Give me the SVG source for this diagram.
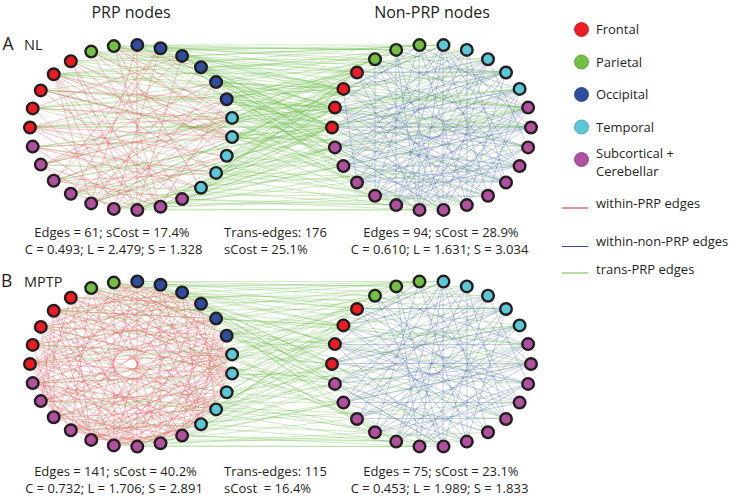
<svg xmlns="http://www.w3.org/2000/svg" width="730" height="496" viewBox="0 0 730 496">
<style>
text{font-family:"Open Sans","Noto Sans","Liberation Sans",sans-serif;fill:#231f20}
.t{font-size:16px;text-anchor:middle}
.p{font-size:17.5px}
.c{font-size:14.5px}
.s{font-size:13px}
.m{text-anchor:middle}
.n circle{stroke:#231f20;stroke-width:2.4}
.fr{fill:#ed1c24}.pa{fill:#72bf44}.oc{fill:#2e4d9f}.te{fill:#5bc8d8}.sc{fill:#b0509f}
.lg circle{stroke-width:0.8}
.er{fill:none;stroke:#e8414b;stroke-width:0.6;stroke-opacity:0.55}
.eb{fill:none;stroke:#4f6db3;stroke-width:0.6;stroke-opacity:0.55}
.eg{fill:none;stroke:#6cbf4a;stroke-width:0.6;stroke-opacity:0.55}
</style>
<rect width="730" height="496" fill="#fff"/>
<g id="connectors">
<g id="edges-A">
<path id="gA1" class="eg" d="M30 127L357 72M30 127L520 89M30 127L443 210M33 108L332 127M33 108L467 50M33 108L520 166M33 108L375 196M41 90L396 50M41 90L531 127M41 90L343 166M54 74L335 108M54 74L506 72M54 74L488 196M54 74L343 89M54 74L419 45M71 61L375 59M71 61L528 108M71 61L419 210M91 52L443 45M91 52L332 127M91 52L528 147M91 52L357 182M91 52L357 72M114 46L343 89M114 46L488 59M114 46L335 147M114 46L506 182M114 46L528 108M137 45L396 50M137 45L419 45M137 45L467 205M137 45L335 108M160 48L375 59M160 48L520 89M160 48L396 205M160 48L332 127M160 48L467 50M182 56L357 72M182 56L443 45M182 56L531 127M182 56L343 166M182 56L506 72M201 67L335 108M201 67L488 59M201 67L443 210M201 67L335 147M201 67L332 127M216 82L332 127M216 82L343 89M216 82L528 108M216 82L375 196M216 82L396 50M227 99L357 72M227 99L335 108M227 99L506 182M227 99L335 147M227 99L506 72M227 99L419 45M232 118L332 127M232 118L343 89M232 118L375 59M232 118L520 89M232 118L396 205M232 118L443 45M232 137L335 108M232 137L335 147M232 137L357 72M232 137L528 147M232 137L467 50M232 137L443 210M227 156L332 127M227 156L343 166M227 156L528 108M227 156L396 50M227 156L343 89M216 173L343 89M216 173L357 182M216 173L335 147M216 173L467 205M216 173L332 127M201 188L335 108M201 188L375 196M201 188L343 166M201 188L506 72M201 188L357 72M182 199L332 127M182 199L396 205M182 199L419 210M182 199L531 127M160 207L335 147M160 207L375 196M160 207L419 45M160 207L488 196M137 210L343 166M137 210L443 210M137 210L335 108M137 210L488 59M114 209L357 182M114 209L419 210M114 209L528 108M91 203L332 127M91 203L467 205M91 203L443 45M71 194L335 147M71 194L520 166M71 194L375 59M54 181L343 89M54 181L396 205M54 181L520 89M41 165L343 166M41 165L506 182M41 165L357 72M33 147L335 108M33 147L531 127M33 147L419 210"/>
<path id="gA2" class="eg" d="M30 127L332 127M30 127L531 127M33 108L343 89M33 108L506 72M41 90L335 108M41 90L488 196M54 74L375 59M54 74L528 108M54 74L396 205M71 61L332 127M71 61L443 45M91 52L343 89M91 52L467 205M114 46L335 108M114 46L396 50M137 45L332 127M137 45L506 72M137 45L343 166M160 48L343 89M160 48L528 147M182 56L332 127M182 56L419 210M201 67L357 72M201 67L528 108M216 82L335 108M216 82L520 166M216 82L335 147M227 99L332 127M227 99L467 50M227 99L419 210M227 99L531 127M232 118L335 108M232 118L357 72M232 118L506 182M232 118L531 127M232 137L332 127M232 137L343 89M232 137L506 72M232 137L528 108M227 156L335 108M227 156L488 59M216 173L357 72M216 173L528 108M201 188L332 127M201 188L335 147M182 199L343 89M182 199L520 89M160 207L335 108M160 207L528 147M137 210L332 127M137 210L528 108M114 209L357 72M114 209L335 147M91 203L343 89M91 203L506 72M71 194L335 108M71 194L375 196M54 181L332 127M54 181L396 50M41 165L488 59M33 147L520 89"/>
<path id="rA" class="er" d="M54 74L160 207M54 74L137 210M54 74L114 209M54 74L182 199M54 74L232 118M54 74L216 173M54 74L91 203M54 74L232 137M30 127L232 118M30 127L232 137M30 127L201 188M30 127L216 82M30 127L160 207M33 108L232 118M33 108L137 210M41 90L232 137M41 90L182 199M232 118L54 181M232 118L91 203M232 118L114 46M232 118L91 52M232 118L137 210M232 118L41 165M232 137L71 194M232 137L33 147M232 137L114 46M114 46L201 188M114 46L160 207M114 46L201 67M91 52L182 199M91 52L227 156M137 45L137 210M137 45L91 203M160 48L114 209M160 48L71 194M182 56L54 181M182 56L137 210M201 67L91 203M216 82L114 209M227 99L41 165M227 99L160 207M227 156L71 194M227 156L30 127M216 173L54 181M216 173L71 61M201 188L33 147M182 199L54 181M160 207L41 165M137 210L33 147M137 210L71 194M114 209L41 165M71 61L160 207M71 61L137 210M71 61L232 137M41 90L227 99M33 108L182 56M33 147L216 173M41 165L216 82M54 181L160 48M91 203L227 156M71 194L227 99"/>
<path id="bA1" class="eb" d="M443 45L443 210M443 45L419 210M443 45L396 205M443 45L488 196M443 45L357 182M443 45L520 166M443 45L343 166M443 45L531 127M443 45L343 89M419 45L467 205M419 45L506 182M419 45L375 196M506 72L335 147M506 72L375 196M506 72L419 210M506 72L332 127M506 72L335 108M506 72L467 205M506 72L357 72M488 59L343 166M488 59L396 205M488 59L443 210M520 89L357 182M520 89L332 127M520 89L335 147M528 108L375 196M528 108L335 108M528 108L343 166M531 127L332 127M531 127L335 147M531 127L357 182M528 147L343 89M528 147L335 108M528 147L396 205M520 166L357 72M520 166L343 166M520 166L375 196M506 182L335 108M506 182L375 59M506 182L357 182M488 196L343 89M488 196L335 147M467 205L332 127M467 205L357 72M467 205L343 166M443 210L335 108M443 210L375 59M443 210L335 147M419 210L396 50M419 210L528 108M419 210L528 147M396 205L467 50M396 205L531 127M396 205L520 89M375 196L488 59M375 196L528 147M357 182L467 50M357 182L528 108M343 166L520 89M343 166L531 127M335 147L488 59M332 127L467 50M332 127L528 147M335 108L419 45M335 108L520 166M343 89L488 59M343 89L506 182M357 72L531 127M375 59L528 108M375 59L488 196M396 50L520 166M396 50L443 210M467 50L467 205M467 50L506 182M488 59L528 147"/>
<path id="bA2" class="eb" d="M419 45L419 210M419 45L528 108M396 50L396 205M396 50L520 89M375 59L375 196M357 72L419 210M343 89L357 182M335 108L488 196M332 127L506 182M335 147L520 166M343 166L506 182M357 182L520 166M375 196L488 196M396 205L528 108M419 210L488 59M443 210L520 89M467 205L528 108M467 50L343 166M520 89L488 196"/>
</g>
<g id="edges-B" transform="translate(0 236.5)">
<use href="#gA1"/>
<use href="#rA"/>
<path class="er" d="M30 127L137 45M30 127L182 56M30 127L137 210M30 127L91 203M33 108L216 82M33 108L216 173M33 108L182 199M33 108L54 181M41 90L160 48M41 90L201 67M41 90L216 173M41 90L137 210M41 90L91 203M54 74L182 56M54 74L216 82M54 74L54 181M71 61L201 67M71 61L232 118M71 61L201 188M71 61L91 203M71 61L41 165M91 52L216 82M91 52L232 137M91 52L137 210M91 52L71 194M91 52L33 147M114 46L227 99M114 46L227 156M114 46L114 209M114 46L54 181M137 45L232 118M137 45L227 156M137 45L201 188M137 45L41 165M137 45L33 108M160 48L232 137M160 48L201 188M160 48L160 207M160 48L33 147M182 56L227 156M182 56L201 188M182 56L91 203M182 56L33 147M201 67L216 173M201 67L182 199M201 67L137 210M201 67L54 181M201 67L30 127M216 82L201 188M216 82L160 207M216 82L71 194M216 82L33 147M227 99L182 199M227 99L114 209M227 99L91 203M227 99L30 127M232 118L160 207M232 118L114 209M232 118L33 147M232 137L182 199M232 137L137 210M232 137L91 203M232 137L54 181M227 156L160 207M227 156L114 209M227 156L41 165M216 173L137 210M216 173L91 203M216 173L91 52M201 188L114 209M201 188L71 194M182 199L91 203M182 199L33 147M160 207L71 194M137 210L54 181M114 209L33 147M91 203L33 147M71 194L30 127M54 181L41 90M41 165L54 74"/>
<use href="#bA1"/>
</g>
</g>
<g id="nodes-A">
<g id="A-L0" class="n"><circle class="fr" cx="30" cy="127.5" r="5.8"/></g>
<g id="A-L1" class="n"><circle class="fr" cx="32.7" cy="108.4" r="5.8"/></g>
<g id="A-L2" class="n"><circle class="fr" cx="40.8" cy="90.4" r="5.8"/></g>
<g id="A-L3" class="n"><circle class="fr" cx="53.7" cy="74.3" r="5.8"/></g>
<g id="A-L4" class="n"><circle class="fr" cx="70.8" cy="61.2" r="5.8"/></g>
<g id="A-L5" class="n"><circle class="pa" cx="91.2" cy="51.6" r="5.8"/></g>
<g id="A-L6" class="n"><circle class="pa" cx="113.8" cy="46.1" r="5.8"/></g>
<g id="A-L7" class="n"><circle class="oc" cx="137.3" cy="44.9" r="5.8"/></g>
<g id="A-L8" class="n"><circle class="oc" cx="160.5" cy="48.3" r="5.8"/></g>
<g id="A-L9" class="n"><circle class="oc" cx="182.1" cy="55.9" r="5.8"/></g>
<g id="A-L10" class="n"><circle class="oc" cx="201" cy="67.3" r="5.8"/></g>
<g id="A-L11" class="n"><circle class="oc" cx="216.1" cy="82.1" r="5.8"/></g>
<g id="A-L12" class="n"><circle class="oc" cx="226.7" cy="99.2" r="5.8"/></g>
<g id="A-L13" class="n"><circle class="te" cx="232.1" cy="117.9" r="5.8"/></g>
<g id="A-L14" class="n"><circle class="te" cx="232.1" cy="137.1" r="5.8"/></g>
<g id="A-L15" class="n"><circle class="te" cx="226.7" cy="155.8" r="5.8"/></g>
<g id="A-L16" class="n"><circle class="te" cx="216.1" cy="172.9" r="5.8"/></g>
<g id="A-L17" class="n"><circle class="te" cx="201" cy="187.7" r="5.8"/></g>
<g id="A-L18" class="n"><circle class="sc" cx="182.1" cy="199.1" r="5.8"/></g>
<g id="A-L19" class="n"><circle class="sc" cx="160.5" cy="206.7" r="5.8"/></g>
<g id="A-L20" class="n"><circle class="sc" cx="137.3" cy="210.1" r="5.8"/></g>
<g id="A-L21" class="n"><circle class="sc" cx="113.8" cy="208.9" r="5.8"/></g>
<g id="A-L22" class="n"><circle class="sc" cx="91.2" cy="203.4" r="5.8"/></g>
<g id="A-L23" class="n"><circle class="sc" cx="70.8" cy="193.8" r="5.8"/></g>
<g id="A-L24" class="n"><circle class="sc" cx="53.7" cy="180.7" r="5.8"/></g>
<g id="A-L25" class="n"><circle class="sc" cx="40.8" cy="164.6" r="5.8"/></g>
<g id="A-L26" class="n"><circle class="sc" cx="32.7" cy="146.6" r="5.8"/></g>
<g id="A-R0" class="n"><circle class="fr" cx="332" cy="127.5" r="5.8"/></g>
<g id="A-R1" class="n"><circle class="fr" cx="334.9" cy="107.6" r="5.8"/></g>
<g id="A-R2" class="n"><circle class="fr" cx="343.4" cy="88.9" r="5.8"/></g>
<g id="A-R3" class="n"><circle class="fr" cx="357" cy="72.5" r="5.8"/></g>
<g id="A-R4" class="n"><circle class="pa" cx="375" cy="59.2" r="5.8"/></g>
<g id="A-R5" class="n"><circle class="pa" cx="396.2" cy="49.9" r="5.8"/></g>
<g id="A-R6" class="n"><circle class="pa" cx="419.5" cy="45.1" r="5.8"/></g>
<g id="A-R7" class="n"><circle class="te" cx="443.5" cy="45.1" r="5.8"/></g>
<g id="A-R8" class="n"><circle class="te" cx="466.8" cy="49.9" r="5.8"/></g>
<g id="A-R9" class="n"><circle class="te" cx="488" cy="59.2" r="5.8"/></g>
<g id="A-R10" class="n"><circle class="te" cx="506" cy="72.5" r="5.8"/></g>
<g id="A-R11" class="n"><circle class="te" cx="519.6" cy="88.9" r="5.8"/></g>
<g id="A-R12" class="n"><circle class="sc" cx="528.1" cy="107.6" r="5.8"/></g>
<g id="A-R13" class="n"><circle class="sc" cx="531" cy="127.5" r="5.8"/></g>
<g id="A-R14" class="n"><circle class="sc" cx="528.1" cy="147.4" r="5.8"/></g>
<g id="A-R15" class="n"><circle class="sc" cx="519.6" cy="166.1" r="5.8"/></g>
<g id="A-R16" class="n"><circle class="sc" cx="506" cy="182.5" r="5.8"/></g>
<g id="A-R17" class="n"><circle class="sc" cx="488" cy="195.8" r="5.8"/></g>
<g id="A-R18" class="n"><circle class="sc" cx="466.8" cy="205.1" r="5.8"/></g>
<g id="A-R19" class="n"><circle class="sc" cx="443.5" cy="209.9" r="5.8"/></g>
<g id="A-R20" class="n"><circle class="sc" cx="419.5" cy="209.9" r="5.8"/></g>
<g id="A-R21" class="n"><circle class="sc" cx="396.2" cy="205.1" r="5.8"/></g>
<g id="A-R22" class="n"><circle class="sc" cx="375" cy="195.8" r="5.8"/></g>
<g id="A-R23" class="n"><circle class="sc" cx="357" cy="182.5" r="5.8"/></g>
<g id="A-R24" class="n"><circle class="sc" cx="343.4" cy="166.1" r="5.8"/></g>
<g id="A-R25" class="n"><circle class="sc" cx="334.9" cy="147.4" r="5.8"/></g>
</g>
<g id="nodes-B" transform="translate(0 236.5)">
<g id="B-L0" class="n"><circle class="fr" cx="30" cy="127.5" r="5.8"/></g>
<g id="B-L1" class="n"><circle class="fr" cx="32.7" cy="108.4" r="5.8"/></g>
<g id="B-L2" class="n"><circle class="fr" cx="40.8" cy="90.4" r="5.8"/></g>
<g id="B-L3" class="n"><circle class="fr" cx="53.7" cy="74.3" r="5.8"/></g>
<g id="B-L4" class="n"><circle class="fr" cx="70.8" cy="61.2" r="5.8"/></g>
<g id="B-L5" class="n"><circle class="pa" cx="91.2" cy="51.6" r="5.8"/></g>
<g id="B-L6" class="n"><circle class="pa" cx="113.8" cy="46.1" r="5.8"/></g>
<g id="B-L7" class="n"><circle class="oc" cx="137.3" cy="44.9" r="5.8"/></g>
<g id="B-L8" class="n"><circle class="oc" cx="160.5" cy="48.3" r="5.8"/></g>
<g id="B-L9" class="n"><circle class="oc" cx="182.1" cy="55.9" r="5.8"/></g>
<g id="B-L10" class="n"><circle class="oc" cx="201" cy="67.3" r="5.8"/></g>
<g id="B-L11" class="n"><circle class="oc" cx="216.1" cy="82.1" r="5.8"/></g>
<g id="B-L12" class="n"><circle class="oc" cx="226.7" cy="99.2" r="5.8"/></g>
<g id="B-L13" class="n"><circle class="te" cx="232.1" cy="117.9" r="5.8"/></g>
<g id="B-L14" class="n"><circle class="te" cx="232.1" cy="137.1" r="5.8"/></g>
<g id="B-L15" class="n"><circle class="te" cx="226.7" cy="155.8" r="5.8"/></g>
<g id="B-L16" class="n"><circle class="te" cx="216.1" cy="172.9" r="5.8"/></g>
<g id="B-L17" class="n"><circle class="te" cx="201" cy="187.7" r="5.8"/></g>
<g id="B-L18" class="n"><circle class="sc" cx="182.1" cy="199.1" r="5.8"/></g>
<g id="B-L19" class="n"><circle class="sc" cx="160.5" cy="206.7" r="5.8"/></g>
<g id="B-L20" class="n"><circle class="sc" cx="137.3" cy="210.1" r="5.8"/></g>
<g id="B-L21" class="n"><circle class="sc" cx="113.8" cy="208.9" r="5.8"/></g>
<g id="B-L22" class="n"><circle class="sc" cx="91.2" cy="203.4" r="5.8"/></g>
<g id="B-L23" class="n"><circle class="sc" cx="70.8" cy="193.8" r="5.8"/></g>
<g id="B-L24" class="n"><circle class="sc" cx="53.7" cy="180.7" r="5.8"/></g>
<g id="B-L25" class="n"><circle class="sc" cx="40.8" cy="164.6" r="5.8"/></g>
<g id="B-L26" class="n"><circle class="sc" cx="32.7" cy="146.6" r="5.8"/></g>
<g id="B-R0" class="n"><circle class="fr" cx="332" cy="127.5" r="5.8"/></g>
<g id="B-R1" class="n"><circle class="fr" cx="334.9" cy="107.6" r="5.8"/></g>
<g id="B-R2" class="n"><circle class="fr" cx="343.4" cy="88.9" r="5.8"/></g>
<g id="B-R3" class="n"><circle class="fr" cx="357" cy="72.5" r="5.8"/></g>
<g id="B-R4" class="n"><circle class="pa" cx="375" cy="59.2" r="5.8"/></g>
<g id="B-R5" class="n"><circle class="pa" cx="396.2" cy="49.9" r="5.8"/></g>
<g id="B-R6" class="n"><circle class="pa" cx="419.5" cy="45.1" r="5.8"/></g>
<g id="B-R7" class="n"><circle class="te" cx="443.5" cy="45.1" r="5.8"/></g>
<g id="B-R8" class="n"><circle class="te" cx="466.8" cy="49.9" r="5.8"/></g>
<g id="B-R9" class="n"><circle class="te" cx="488" cy="59.2" r="5.8"/></g>
<g id="B-R10" class="n"><circle class="te" cx="506" cy="72.5" r="5.8"/></g>
<g id="B-R11" class="n"><circle class="te" cx="519.6" cy="88.9" r="5.8"/></g>
<g id="B-R12" class="n"><circle class="sc" cx="528.1" cy="107.6" r="5.8"/></g>
<g id="B-R13" class="n"><circle class="sc" cx="531" cy="127.5" r="5.8"/></g>
<g id="B-R14" class="n"><circle class="sc" cx="528.1" cy="147.4" r="5.8"/></g>
<g id="B-R15" class="n"><circle class="sc" cx="519.6" cy="166.1" r="5.8"/></g>
<g id="B-R16" class="n"><circle class="sc" cx="506" cy="182.5" r="5.8"/></g>
<g id="B-R17" class="n"><circle class="sc" cx="488" cy="195.8" r="5.8"/></g>
<g id="B-R18" class="n"><circle class="sc" cx="466.8" cy="205.1" r="5.8"/></g>
<g id="B-R19" class="n"><circle class="sc" cx="443.5" cy="209.9" r="5.8"/></g>
<g id="B-R20" class="n"><circle class="sc" cx="419.5" cy="209.9" r="5.8"/></g>
<g id="B-R21" class="n"><circle class="sc" cx="396.2" cy="205.1" r="5.8"/></g>
<g id="B-R22" class="n"><circle class="sc" cx="375" cy="195.8" r="5.8"/></g>
<g id="B-R23" class="n"><circle class="sc" cx="357" cy="182.5" r="5.8"/></g>
<g id="B-R24" class="n"><circle class="sc" cx="343.4" cy="166.1" r="5.8"/></g>
<g id="B-R25" class="n"><circle class="sc" cx="334.9" cy="147.4" r="5.8"/></g>
</g>
<g id="labels">
<text class="t" x="131" y="17.5">PRP nodes</text>
<text class="t" x="432" y="17.5">Non-PRP nodes</text>
<text class="p" x="2.5" y="50">A</text>
<text class="c" x="24" y="50">NL</text>
<text class="p" x="1" y="286.5">B</text>
<text class="c" x="24" y="286.5">MPTP</text>
<text class="s m" x="112" y="236.5">Edges = 61; sCost = 17.4%</text>
<text class="s m" x="113.5" y="254">C = 0.493; L = 2.479; S = 1.328</text>
<text class="s" x="224" y="236.5">Trans-edges: 176</text>
<text class="s" x="224" y="254">sCost = 25.1%</text>
<text class="s m" x="441" y="236.5">Edges = 94; sCost = 28.9%</text>
<text class="s m" x="439.5" y="254">C = 0.610; L = 1.631; S = 3.034</text>
<text class="s m" x="115.5" y="475.5">Edges = 141; sCost = 40.2%</text>
<text class="s m" x="114" y="493">C = 0.732; L = 1.706; S = 2.891</text>
<text class="s" x="224" y="475.5">Trans-edges: 115</text>
<text class="s" x="224" y="493" xml:space="preserve">sCost  = 16.4%</text>
<text class="s m" x="441" y="475.5">Edges = 75; sCost = 23.1%</text>
<text class="s m" x="439.5" y="493">C = 0.453; L = 1.989; S = 1.833</text>
</g>
<g id="legend" class="lg">
<g id="lg-frontal"><circle class="fr" cx="581.5" cy="29.5" r="7" stroke="#b5141b"/><text class="s" x="596" y="34">Frontal</text></g>
<g id="lg-parietal"><circle class="pa" cx="581.5" cy="62" r="7" stroke="#4f9a2c"/><text class="s" x="596" y="66.5">Parietal</text></g>
<g id="lg-occipital"><circle class="oc" cx="581.5" cy="94.5" r="7" stroke="#1f3778"/><text class="s" x="596" y="99">Occipital</text></g>
<g id="lg-temporal"><circle class="te" cx="581.5" cy="127" r="7" stroke="#3a9aa8"/><text class="s" x="596" y="131.5">Temporal</text></g>
<g id="lg-subcortical"><circle class="sc" cx="581.5" cy="159.5" r="7" stroke="#84367a"/><text class="s" x="596" y="158">Subcortical +</text><text class="s" x="596" y="176">Cerebellar</text></g>
<g id="lg-within-prp"><line x1="562" y1="208" x2="588" y2="208" stroke="#e0202a" stroke-width="1"/><text class="s" x="596" y="207.5">within-PRP edges</text></g>
<g id="lg-within-non-prp"><line x1="562" y1="246.5" x2="588" y2="246.5" stroke="#2e4d9f" stroke-width="1"/><text class="s" x="596" y="246">within-non-PRP edges</text></g>
<g id="lg-trans-prp"><line x1="562" y1="273" x2="588" y2="273" stroke="#6cbf4a" stroke-width="1"/><text class="s" x="596" y="274">trans-PRP edges</text></g>
</g>
</svg>
